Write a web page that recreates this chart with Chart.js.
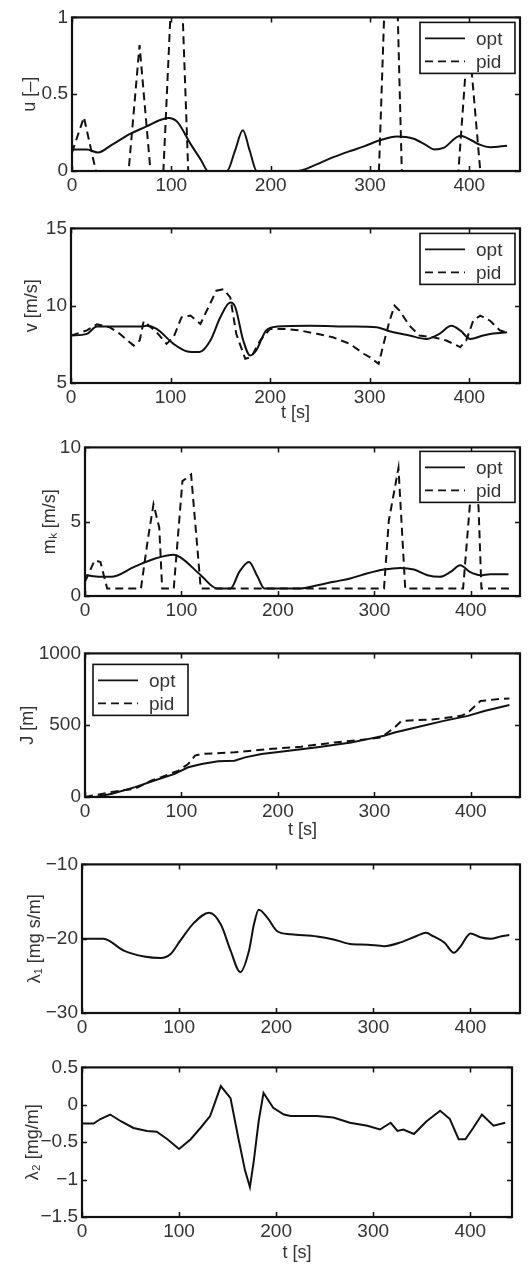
<!DOCTYPE html>
<html>
<head>
<meta charset="utf-8">
<script src="https://cdn.jsdelivr.net/npm/chart.js@4.4.1/dist/chart.umd.min.js"></script>
<style>
  html, body { margin: 0; padding: 0; background: #fff; }
  #fig { position: relative; width: 532px; height: 1265px; overflow: hidden; background: #fff; }
  #fig canvas { position: absolute; left: 0; }
</style>
</head>
<body>
<div id="fig"></div>
<script>
// ---- control input u [-] ----
const uOptT = [0, 15, 26, 40, 58, 75, 88, 97, 106, 119, 130, 137, 156, 164, 172, 179, 186, 227, 245, 263, 280, 294, 310, 327, 344, 356, 365, 374, 391, 402, 411, 421, 438];
const uOpt  = [0.14, 0.14, 0.12, 0.17, 0.24, 0.29, 0.33, 0.345, 0.32, 0.18, 0.07, 0, 0, 0.13, 0.265, 0.13, 0, 0, 0.04, 0.09, 0.13, 0.16, 0.2, 0.225, 0.21, 0.17, 0.14, 0.15, 0.23, 0.2, 0.17, 0.155, 0.165];
const uPidT = [0, 12, 24, 57, 68, 79, 92, 106, 117, 309, 322, 332, 389, 399, 411, 440];
const uPid  = [0.12, 0.35, 0, 0, 0.82, 0, 0, 2.0, 0, 0, 2.5, 0, 0, 0.9, 0, 0];

// ---- velocity v [m/s] ----
const vOptT = [0, 16, 26, 45, 69, 76, 86, 103, 116, 129, 140, 150, 160, 165, 173, 180, 186, 196, 207, 240, 280, 307, 320, 340, 357, 370, 382, 391, 401, 414, 424, 438];
const vOpt  = [8.07, 8.18, 8.65, 8.65, 8.65, 8.7, 8.5, 7.53, 7.06, 7.0, 7.75, 9.25, 10.2, 9.9, 7.75, 6.78, 7.1, 8.4, 8.65, 8.7, 8.65, 8.6, 8.35, 8.07, 7.85, 8.18, 8.7, 8.4, 7.85, 8.07, 8.2, 8.28];
const vPidT = [0, 16, 26, 39, 49, 63, 69, 73, 86, 96, 103, 111, 120, 130, 138, 146, 153, 160, 166, 175, 181, 190, 200, 213, 230, 247, 263, 280, 294, 300, 309, 314, 320, 325, 330, 340, 350, 364, 377, 391, 397, 404, 411, 421, 431, 438];
const vPid  = [8.07, 8.4, 8.8, 8.6, 8.18, 7.42, 7.75, 9.0, 8.28, 7.53, 7.96, 9.25, 9.36, 8.82, 9.9, 10.97, 11.07, 10.54, 8.18, 6.57, 6.67, 7.75, 8.5, 8.5, 8.4, 8.18, 7.96, 7.53, 6.89, 6.67, 6.24, 7.53, 9.03, 10.0, 9.68, 8.71, 8.07, 7.96, 7.75, 7.32, 7.75, 9.03, 9.36, 9.03, 8.39, 8.28];

// ---- m_k [m/s] ----
const mOptT = [0, 16, 27, 51, 72, 92, 99, 120, 137, 151, 160, 170, 179, 186, 199, 223, 241, 258, 275, 292, 310, 327, 341, 355, 368, 379, 389, 399, 410, 420, 439];
const mOpt  = [1.4, 1.29, 1.29, 1.96, 2.51, 2.78, 2.6, 1.4, 0.51, 0.51, 1.62, 2.29, 1.29, 0.51, 0.51, 0.51, 0.73, 0.96, 1.18, 1.51, 1.78, 1.89, 1.78, 1.4, 1.29, 1.62, 2.07, 1.62, 1.4, 1.47, 1.47];
const mPidT = [0, 10, 16, 23, 58, 65, 71, 77, 80, 92, 101, 110, 117, 120, 310, 315, 325, 330, 332, 392, 402, 408, 411, 440];
const mPid  = [0.96, 2.4, 2.29, 0.5, 0.5, 3.73, 6.18, 4.6, 0.5, 0.5, 7.73, 8.18, 2.84, 0.5, 0.5, 5.07, 8.62, 2.84, 0.5, 0.5, 8.5, 6.0, 0.5, 0.5];

// ---- cost J [m] ----
const jOptT = [0, 12, 28, 52, 72, 93, 107, 121, 138, 155, 166, 183, 207, 241, 276, 293, 310, 321, 345, 372, 397, 414, 440];
const jOpt  = [0, 2, 23, 69, 115, 161, 207, 230, 249, 253, 276, 300, 318, 346, 380, 403, 426, 449, 488, 530, 565, 599, 640];
const jPidT = [0, 28, 52, 69, 79, 97, 107, 114, 121, 155, 190, 224, 259, 293, 307, 321, 328, 362, 390, 397, 410, 431, 440];
const jPid  = [0, 35, 58, 115, 138, 184, 230, 288, 300, 311, 334, 350, 380, 403, 415, 484, 530, 541, 565, 588, 668, 684, 686];

// ---- costate lambda_1 [mg s/m] ----
const l1T = [0, 22, 43, 64, 81, 91, 101, 115, 131, 143, 153, 163, 172, 177, 182, 191, 201, 215, 242, 259, 276, 294, 311, 328, 345, 354, 362, 373, 383, 390, 400, 410, 421, 431, 440];
const l1  = [-20, -20, -21.6, -22.4, -22.6, -22.1, -20.3, -17.9, -16.5, -18.1, -21.6, -24.5, -21.6, -18.1, -16.1, -17.2, -19.0, -19.4, -19.7, -20.1, -20.7, -20.8, -21.0, -20.5, -19.6, -19.2, -19.7, -20.5, -21.9, -21.0, -19.3, -19.8, -20.0, -19.7, -19.5];

// ---- costate lambda_2 [mg/m] ----
const l2T = [0, 12, 19, 29, 40, 53, 67, 77, 88, 100, 112, 122, 132, 143, 153, 161, 168, 173, 177, 182, 187, 197, 208, 215, 242, 259, 276, 294, 307, 318, 325, 331, 342, 355, 369, 379, 388, 395, 403, 412, 424, 436];
const l2  = [-0.25, -0.25, -0.19, -0.13, -0.22, -0.31, -0.35, -0.36, -0.46, -0.59, -0.46, -0.31, -0.15, 0.25, 0.09, -0.44, -0.88, -1.1, -0.75, -0.22, 0.16, -0.04, -0.13, -0.15, -0.15, -0.17, -0.24, -0.28, -0.33, -0.24, -0.35, -0.33, -0.39, -0.22, -0.08, -0.19, -0.46, -0.46, -0.31, -0.13, -0.28, -0.24];

const xTicks = [0, 100, 200, 300, 400];

const FONT = '"Liberation Sans", Arial, Helvetica, sans-serif';
const INK = '#111';
const TEXT = '#333';
const DASH = [8, 5];

const pts = (ts, vs) => ts.map((t, i) => ({ x: t, y: vs[i] }));
const fmt = v => String(v).replace('-', '\u2212');

function solid(label, ts, vs, smooth) {
  return { label, data: pts(ts, vs), borderColor: INK, borderWidth: 2, pointRadius: 0,
           cubicInterpolationMode: smooth ? 'monotone' : 'default', tension: 0 };
}
function dashed(label, ts, vs) {
  return { label, data: pts(ts, vs), borderColor: INK, borderWidth: 2, pointRadius: 0,
           borderDash: DASH, tension: 0 };
}

// closed box with inward ticks on all four sides
const framePlugin = {
  id: 'frame',
  afterDatasetsDraw(chart) {
    const { ctx, chartArea: a, scales: { x, y } } = chart;
    const L = 5;
    ctx.save();
    ctx.strokeStyle = INK;
    ctx.lineWidth = 1.5;
    ctx.beginPath();
    x.ticks.forEach(t => {
      const p = Math.round(x.getPixelForValue(t.value)) + 0.5;
      ctx.moveTo(p, a.bottom); ctx.lineTo(p, a.bottom - L);
      ctx.moveTo(p, a.top); ctx.lineTo(p, a.top + L);
    });
    y.ticks.forEach(t => {
      const p = Math.round(y.getPixelForValue(t.value)) + 0.5;
      ctx.moveTo(a.left, p); ctx.lineTo(a.left + L, p);
      ctx.moveTo(a.right, p); ctx.lineTo(a.right - L, p);
    });
    ctx.stroke();
    ctx.lineWidth = 2.2;
    ctx.strokeRect(a.left, a.top, a.right - a.left, a.bottom - a.top);
    ctx.restore();
  }
};

function boxLegend(spec) {
  return {
    id: 'boxLegend',
    afterDraw(chart) {
      if (!spec) return;
      const { ctx, chartArea: a } = chart;
      const w = 95, h = 51;
      const left = spec.side === 'right' ? a.right - spec.dx - w : a.left + spec.dx;
      const top = a.top + spec.dy;
      ctx.save();
      ctx.fillStyle = '#fff';
      ctx.fillRect(left, top, w, h);
      ctx.strokeStyle = INK;
      ctx.lineWidth = 1.6;
      ctx.strokeRect(left, top, w, h);
      chart.data.datasets.forEach((ds, i) => {
        const yy = top + 16 + i * 23;
        ctx.beginPath();
        ctx.setLineDash(ds.borderDash || []);
        ctx.lineWidth = 1.6;
        ctx.moveTo(left + 5, yy);
        ctx.lineTo(left + 45, yy);
        ctx.stroke();
        ctx.setLineDash([]);
        ctx.fillStyle = TEXT;
        ctx.font = '19px ' + FONT;
        ctx.textBaseline = 'middle';
        ctx.textAlign = 'left';
        ctx.fillText(ds.label, left + 56, yy + 1);
      });
      ctx.restore();
    }
  };
}

function panel(p) {
  const padTop = 14;
  const plotH = p.bottom - p.top;
  const H = padTop + plotH + p.xAxisH;
  const cv = document.createElement('canvas');
  cv.width = 532; cv.height = H;
  cv.style.top = (p.top - padTop) + 'px';
  cv.style.width = '532px'; cv.style.height = H + 'px';
  document.getElementById('fig').appendChild(cv);
  const titleFont = { family: FONT, size: 18 };
  new Chart(cv, {
    type: 'line',
    data: { datasets: p.datasets },
    options: {
      responsive: false,
      animation: false,
      devicePixelRatio: 1,
      layout: { padding: { top: padTop, left: 0, right: 532 - p.right, bottom: 0 } },
      plugins: { legend: { display: false }, tooltip: { enabled: false } },
      scales: {
        x: {
          type: 'linear', min: 0, max: p.xMax,
          grid: { display: false, drawTicks: false },
          border: { display: false },
          afterBuildTicks: s => { s.ticks = xTicks.map(v => ({ value: v })); },
          afterFit: s => { s.height = p.xAxisH; },
          ticks: { padding: 3, maxRotation: 0, autoSkip: false, color: TEXT,
                   font: { family: FONT, size: 19 }, callback: fmt },
          title: { display: !!p.xTitle, text: p.xTitle || '', color: TEXT, font: titleFont, padding: 0 }
        },
        y: {
          type: 'linear', min: p.yMin, max: p.yMax,
          grid: { display: false, drawTicks: false },
          border: { display: false },
          afterBuildTicks: s => { s.ticks = p.yTicks.map(v => ({ value: v })); },
          afterFit: s => { s.width = p.left; },
          ticks: { padding: 4, color: TEXT, font: { family: FONT, size: 19 }, callback: fmt },
          title: { display: true, text: p.yTitle, color: TEXT, font: titleFont,
                   padding: { top: p.yTitleX - 10.8, bottom: 0 } }
        }
      }
    },
    plugins: [framePlugin, boxLegend(p.legend)]
  });
}

panel({ top: 16, bottom: 171, left: 72, right: 520, xMax: 451, yMin: 0, yMax: 1,
        yTicks: [0, 0.5, 1], yTitle: 'u [–]', yTitleX: 30, xAxisH: 30,
        legend: { side: 'right', dx: 5, dy: 5 },
        datasets: [solid('opt', uOptT, uOpt, true), dashed('pid', uPidT, uPid)] });

panel({ top: 227, bottom: 383, left: 71, right: 520, xMax: 451, yMin: 5, yMax: 15,
        yTicks: [5, 10, 15], yTitle: 'v [m/s]', yTitleX: 32, xTitle: 't [s]', xAxisH: 41,
        legend: { side: 'right', dx: 5, dy: 5 },
        datasets: [solid('opt', vOptT, vOpt, true), dashed('pid', vPidT, vPid)] });

panel({ top: 446, bottom: 596, left: 85, right: 520, xMax: 451, yMin: 0, yMax: 10,
        yTicks: [0, 5, 10], yTitle: 'mₖ [m/s]', yTitleX: 50, xAxisH: 30,
        legend: { side: 'right', dx: 5, dy: 4 },
        datasets: [solid('opt', mOptT, mOpt, true), dashed('pid', mPidT, mPid)] });

panel({ top: 652, bottom: 797, left: 85, right: 520, xMax: 451, yMin: 0, yMax: 1000,
        yTicks: [0, 500, 1000], yTitle: 'J [m]', yTitleX: 28, xTitle: 't [s]', xAxisH: 44,
        legend: { side: 'left', dx: 8, dy: 11 },
        datasets: [solid('opt', jOptT, jOpt, false), dashed('pid', jPidT, jPid)] });

panel({ top: 863, bottom: 1013, left: 82, right: 520, xMax: 451, yMin: -30, yMax: -10,
        yTicks: [-30, -20, -10], yTitle: 'λ₁ [mg s/m]', yTitleX: 35, xAxisH: 30,
        legend: null,
        datasets: [solid('opt', l1T, l1, true)] });

panel({ top: 1066, bottom: 1217, left: 82, right: 512, xMax: 443, yMin: -1.5, yMax: 0.5,
        yTicks: [-1.5, -1, -0.5, 0, 0.5], yTitle: 'λ₂ [mg/m]', yTitleX: 33, xTitle: 't [s]', xAxisH: 47,
        legend: null,
        datasets: [solid('opt', l2T, l2, false)] });
</script>
</body>
</html>
